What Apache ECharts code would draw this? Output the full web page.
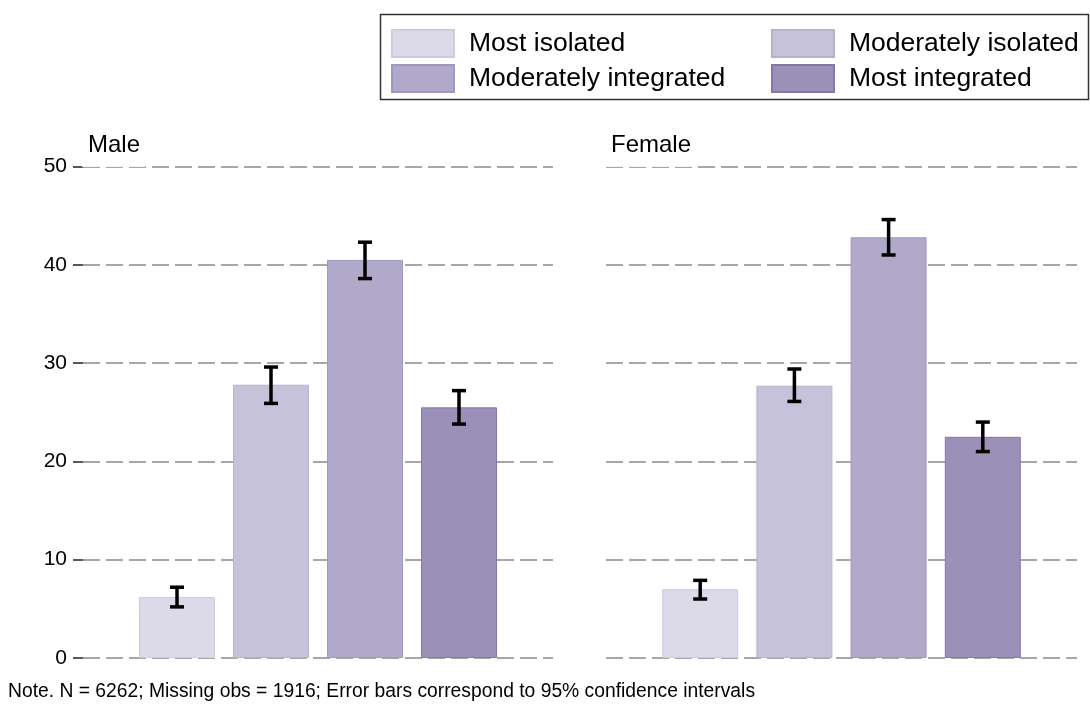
<!DOCTYPE html>
<html>
<head>
<meta charset="utf-8">
<script src="https://cdn.jsdelivr.net/npm/echarts@6/dist/echarts.min.js"></script>
<style>
html,body{margin:0;padding:0;background:#fff;}
#chart{width:1090px;height:707px;}
</style>
</head>
<body>
<div id="chart"></div>
<script>
const categories = ['Most isolated', 'Moderately isolated', 'Moderately integrated', 'Most integrated'];
const panels = ['Male', 'Female'];
const maleValues = [6.2, 27.8, 40.5, 25.5];
const maleLower = [5.2, 25.9, 38.6, 23.8];
const maleUpper = [7.2, 29.6, 42.3, 27.2];
const femaleValues = [7.0, 27.7, 42.8, 22.5];
const femaleLower = [6.0, 26.1, 41.0, 21.0];
const femaleUpper = [7.9, 29.4, 44.6, 24.0];
const yTicks = [0, 10, 20, 30, 40, 50];
const noteText = 'Note. N = 6262; Missing obs = 1916; Error bars correspond to 95% confidence intervals';

const fills = ['#dcd9e9', '#c6c2da', '#b0a9ca', '#9a90b8'];
const borders = ['#cfcae2', '#b8b2d1', '#a098c0', '#8378aa'];
const FONT = '"Liberation Sans", Arial, Helvetica, sans-serif';

const chart = echarts.init(document.getElementById('chart'), null, {renderer: 'canvas'});

const panelValues = [maleValues, femaleValues];
const panelLower = [maleLower, femaleLower];
const panelUpper = [maleUpper, femaleUpper];

function renderErr(params, api) {
  const x = api.value(0);
  const lo = api.coord([x, api.value(1)]);
  const hi = api.coord([x, api.value(2)]);
  const w = 7;
  const st = {stroke: '#000', lineWidth: 3.5};
  return {
    type: 'group',
    children: [
      {type: 'line', shape: {x1: lo[0], y1: lo[1], x2: hi[0], y2: hi[1]}, style: st},
      {type: 'line', shape: {x1: lo[0] - w, y1: lo[1], x2: lo[0] + w, y2: lo[1]}, style: st},
      {type: 'line', shape: {x1: hi[0] - w, y1: hi[1], x2: hi[0] + w, y2: hi[1]}, style: st}
    ]
  };
}

const series = [];
panels.forEach((p, g) => {
  categories.forEach((c, i) => {
    series.push({
      name: c,
      type: 'bar',
      xAxisIndex: g,
      yAxisIndex: g,
      barWidth: 76,
      barGap: '-100%',
      itemStyle: {color: fills[i], borderColor: borders[i], borderWidth: 1},
      emphasis: {disabled: true},
      data: [[i + 1, panelValues[g][i]]]
    });
  });
  series.push({
    type: 'custom',
    xAxisIndex: g,
    yAxisIndex: g,
    z: 10,
    renderItem: renderErr,
    encode: {x: 0, y: [1, 2]},
    data: panelLower[g].map((lo, i) => [i + 1, lo, panelUpper[g][i]])
  });
});

const legendCommon = {
  orient: 'vertical',
  top: 24,
  itemWidth: 62,
  itemHeight: 27,
  itemGap: 6,
  icon: 'rect',
  selectedMode: false,
  textStyle: {fontFamily: FONT, fontSize: 26.5, color: '#000', padding: [0, 0, 0, 10]}
};

const option = {
  backgroundColor: '#fff',
  animation: false,
  textStyle: {fontFamily: FONT},
  title: [
    {text: panels[0], left: 82, top: 131, padding: [2, 5, 10, 6], backgroundColor: 'rgba(255,255,255,0.85)',
     textStyle: {fontFamily: FONT, fontSize: 24, fontWeight: 'normal', color: '#000'}},
    {text: panels[1], left: 605, top: 131, padding: [2, 5, 10, 6], backgroundColor: 'rgba(255,255,255,0.85)',
     textStyle: {fontFamily: FONT, fontSize: 24, fontWeight: 'normal', color: '#000'}},
    {text: noteText, left: 8, top: 682, padding: 0,
     textStyle: {fontFamily: FONT, fontSize: 19.3, fontWeight: 'normal', color: '#000'}}
  ],
  legend: [
    Object.assign({}, legendCommon, {left: 386, data: [categories[0], categories[2]]}),
    Object.assign({}, legendCommon, {left: 766, data: [categories[1], categories[3]]})
  ],
  graphic: [
    {type: 'rect', left: 378, top: 12, shape: {width: 708, height: 85},
     style: {fill: 'none', stroke: '#333', lineWidth: 1.5}, z: 100}
  ],
  grid: [
    {left: 83, right: 1090 - 553, top: 166.5, bottom: 707 - 658},
    {left: 606, right: 1090 - 1077, top: 166.5, bottom: 707 - 658}
  ],
  xAxis: panels.map((p, g) => ({
    type: 'value', gridIndex: g, min: 0, max: categories.length + 1, show: false
  })),
  yAxis: panels.map((p, g) => ({
    type: 'value', gridIndex: g, min: yTicks[0], max: yTicks[yTicks.length - 1], interval: 10,
    axisLine: {show: false},
    axisTick: {show: g === 0, length: 10, lineStyle: {color: '#222', width: 1.5}},
    axisLabel: {show: g === 0, fontFamily: FONT, fontSize: 21, color: '#000', margin: 16},
    splitLine: {show: true, lineStyle: {color: '#8a8a8a', width: 1.6, type: [17, 6]}}
  })),
  series: series
};

chart.setOption(option);
</script>
</body>
</html>
